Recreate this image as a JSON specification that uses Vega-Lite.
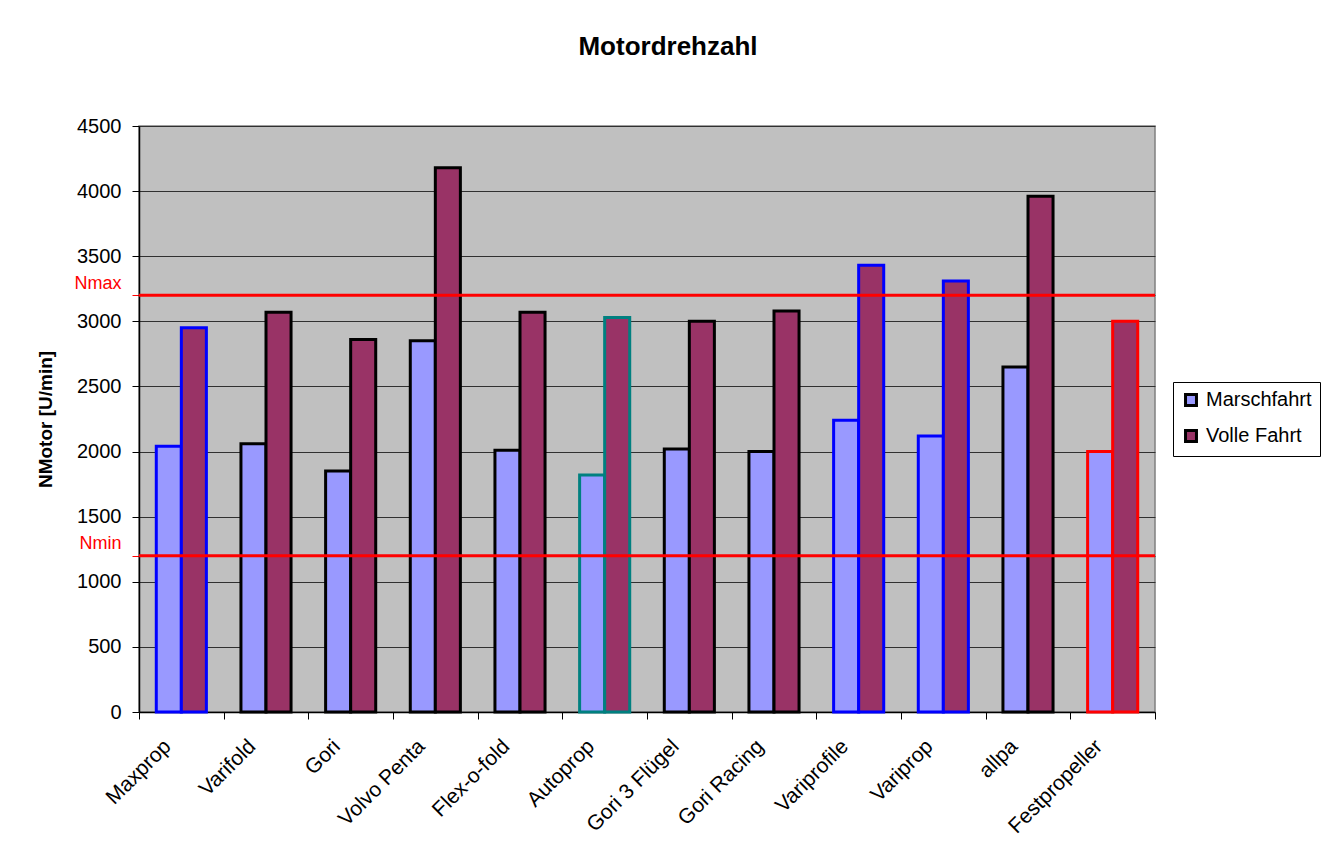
{
  "$schema": "https://vega.github.io/schema/vega-lite/v6.json",
  "width": 1016,
  "height": 586,
  "autosize": {"type": "none"},
  "padding": {"left": 139, "top": 126, "right": 182, "bottom": 151},
  "background": "white",
  "title": {"text": "Motordrehzahl", "fontSize": 26, "font": "Liberation Sans", "fontWeight": "bold", "anchor": "middle", "offset": 56, "dx": 21, "color": "black"},
  "config": {
    "font": "Liberation Sans",
    "view": {"stroke": "#808080", "strokeWidth": 1.5, "fill": "#C0C0C0"},
    "axis": {"labelFont": "Liberation Sans", "labelFontSize": 20, "labelColor": "black", "domainColor": "black", "domainWidth": 1.5, "tickColor": "black", "tickSize": 7, "titleFont": "Liberation Sans"}
  },
  "layer": [
    {
      "data": {"values": [
        {"product": "Maxprop", "series": "Marschfahrt", "value": 2040},
        {"product": "Maxprop", "series": "Volle Fahrt", "value": 2950},
        {"product": "Varifold", "series": "Marschfahrt", "value": 2060},
        {"product": "Varifold", "series": "Volle Fahrt", "value": 3070},
        {"product": "Gori", "series": "Marschfahrt", "value": 1850},
        {"product": "Gori", "series": "Volle Fahrt", "value": 2860},
        {"product": "Volvo Penta", "series": "Marschfahrt", "value": 2850},
        {"product": "Volvo Penta", "series": "Volle Fahrt", "value": 4180},
        {"product": "Flex-o-fold", "series": "Marschfahrt", "value": 2010},
        {"product": "Flex-o-fold", "series": "Volle Fahrt", "value": 3070},
        {"product": "Autoprop", "series": "Marschfahrt", "value": 1820},
        {"product": "Autoprop", "series": "Volle Fahrt", "value": 3030},
        {"product": "Gori 3 Flügel", "series": "Marschfahrt", "value": 2020},
        {"product": "Gori 3 Flügel", "series": "Volle Fahrt", "value": 3000},
        {"product": "Gori Racing", "series": "Marschfahrt", "value": 2000},
        {"product": "Gori Racing", "series": "Volle Fahrt", "value": 3080},
        {"product": "Variprofile", "series": "Marschfahrt", "value": 2240},
        {"product": "Variprofile", "series": "Volle Fahrt", "value": 3430},
        {"product": "Variprop", "series": "Marschfahrt", "value": 2120},
        {"product": "Variprop", "series": "Volle Fahrt", "value": 3310},
        {"product": "allpa", "series": "Marschfahrt", "value": 2650},
        {"product": "allpa", "series": "Volle Fahrt", "value": 3960},
        {"product": "Festpropeller", "series": "Marschfahrt", "value": 2000},
        {"product": "Festpropeller", "series": "Volle Fahrt", "value": 3000}
      ]},
      "mark": {"type": "bar", "strokeWidth": 3, "strokeJoin": "miter"},
      "encoding": {
        "x": {
          "field": "product", "type": "nominal", "sort": null,
          "scale": {"paddingInner": 0, "paddingOuter": 0},
          "axis": {"title": null, "labelAngle": -45, "labelAlign": "right", "labelBaseline": "middle", "tickBand": "extent", "labelFontSize": 21, "labelPadding": 24, "labelOffset": -14, "grid": false}
        },
        "xOffset": {"field": "series", "type": "nominal", "scale": {"paddingInner": 0, "paddingOuter": 0.69}},
        "y": {
          "field": "value", "type": "quantitative",
          "scale": {"domain": [0, 4500], "nice": false},
          "axis": {
            "title": "NMotor [U/min]", "titleFontSize": 19, "titleFontWeight": "bold", "titleColor": "black", "titlePadding": 18,
            "values": [0, 500, 1000, 1500, 2000, 2500, 3000, 3500, 4000, 4500, 1200, 3200],
            "format": "d",
            "labelExpr": "datum.value == 3200 ? 'Nmax' : (datum.value == 1200 ? 'Nmin' : datum.label)",
            "labelColor": {"condition": {"test": "datum.value == 3200 || datum.value == 1200", "value": "red"}, "value": "black"},
            "labelOffset": {"condition": {"test": "datum.value == 3200 || datum.value == 1200", "value": -12}, "value": 0},
            "labelFontSize": {"condition": {"test": "datum.value == 3200 || datum.value == 1200", "value": 18}, "value": 20},
            "tickColor": {"condition": {"test": "datum.value == 3200 || datum.value == 1200", "value": "red"}, "value": "black"},
            "labelPadding": 11,
            "grid": true, "gridColor": "#303030", "gridWidth": 1
          }
        },
        "fill": {
          "field": "series", "type": "nominal",
          "scale": {"domain": ["Marschfahrt", "Volle Fahrt"], "range": ["#9999FF", "#993366"]},
          "legend": {"title": null, "orient": "none", "legendX": 1034, "legendY": 256, "strokeColor": "black", "padding": 8, "labelFontSize": 20, "labelColor": "black", "symbolType": "square", "symbolSize": 120, "symbolStrokeColor": "black", "symbolStrokeWidth": 3, "symbolOpacity": 1, "rowPadding": 12, "labelOffset": 5, "fillColor": "white"}
        },
        "stroke": {
          "field": "product", "type": "nominal",
          "scale": {
            "domain": ["Maxprop", "Varifold", "Gori", "Volvo Penta", "Flex-o-fold", "Autoprop", "Gori 3 Flügel", "Gori Racing", "Variprofile", "Variprop", "allpa", "Festpropeller"],
            "range": ["#0000FF", "#000000", "#000000", "#000000", "#000000", "#008080", "#000000", "#000000", "#0000FF", "#0000FF", "#000000", "#FF0000"]
          },
          "legend": null
        }
      }
    },
    {
      "data": {"values": [
        {"limit": "Nmax", "value": 3200},
        {"limit": "Nmin", "value": 1200}
      ]},
      "mark": {"type": "rule", "color": "#FF0000", "strokeWidth": 3},
      "encoding": {
        "y": {"field": "value", "type": "quantitative"}
      }
    }
  ]
}
